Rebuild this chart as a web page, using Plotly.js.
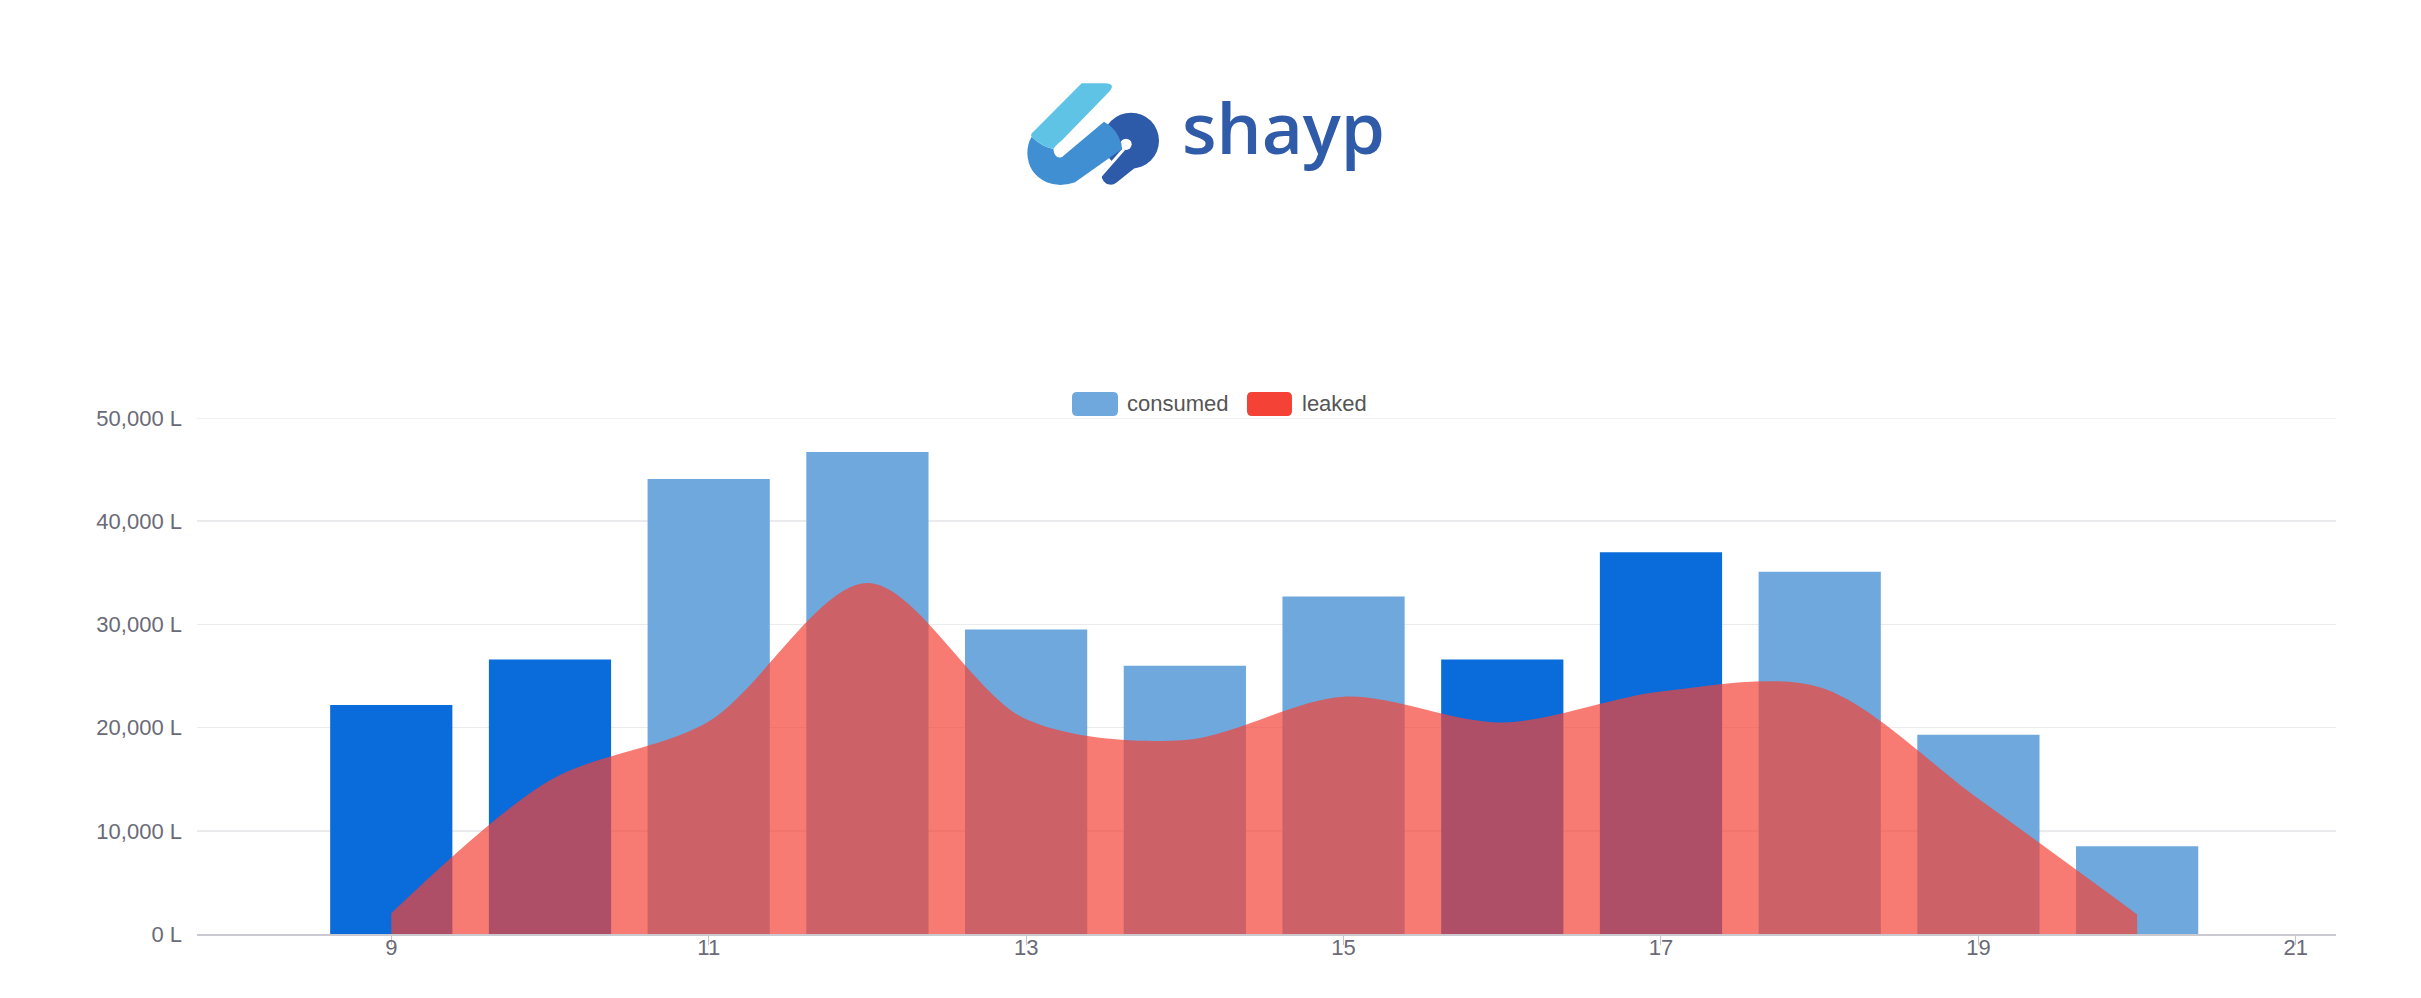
<!DOCTYPE html>
<html>
<head>
<meta charset="utf-8">
<script src="https://cdn.plot.ly/plotly-3.0.1.min.js"></script>
<style>html,body{margin:0;padding:0;background:#fff;}#chart{width:2421px;height:998px;}</style>
</head>
<body>
<div id="chart"></div>
<script>
// ---- data ----
const hours = [9, 10, 11, 12, 13, 14, 15, 16, 17, 18, 19, 20];
const consumed = [22200, 26600, 44100, 46700, 29500, 26000, 32700, 26600, 37000, 35100, 19300, 8500];
const leaked = [2000, 14900, 20600, 34000, 20800, 18800, 23000, 20500, 23500, 23900, 13100, 1900];
const highlightedHours = [9, 10, 16, 17];
const xTicks = [9, 11, 13, 15, 17, 19, 21];
const yTicks = [0, 10000, 20000, 30000, 40000, 50000];
const yTickText = yTicks.map(v => v.toLocaleString('en-US') + ' L');
const seriesNames = ["consumed", "leaked"];
const brandName = "shayp";

// ---- layout helpers ----
const W = 2421, H = 998;
const M = {l: 197, r: 85, t: 418, b: 64};
const pw = W - M.l - M.r, ph = H - M.t - M.b;
const X = p => (p - M.l) / pw;
const Y = p => (H - M.b - p) / ph;

function roundRect(x0, y0, x1, y1, r) {
  return `M${X(x0 + r)},${Y(y0)} L${X(x1 - r)},${Y(y0)} Q${X(x1)},${Y(y0)} ${X(x1)},${Y(y0 + r)} ` +
         `L${X(x1)},${Y(y1 - r)} Q${X(x1)},${Y(y1)} ${X(x1 - r)},${Y(y1)} ` +
         `L${X(x0 + r)},${Y(y1)} Q${X(x0)},${Y(y1)} ${X(x0)},${Y(y1 - r)} ` +
         `L${X(x0)},${Y(y0 + r)} Q${X(x0)},${Y(y0)} ${X(x0 + r)},${Y(y0)} Z`;
}

const LIGHT = '#6FA8DC', DARK = '#0A6CDA', RED = '#F44336';
const GRID = '#ebebee';

const logoSvg = `<svg xmlns="http://www.w3.org/2000/svg" viewBox="0 0 435 345" width="435" height="345">
<circle cx="333" cy="197" r="84" fill="#2E5BA9"/>
<path d="M350 240 L272 302" stroke="#2E5BA9" stroke-width="54" stroke-linecap="round" fill="none"/>
<circle cx="318" cy="208" r="17" fill="#ffffff"/>
<path d="M312 222 L212 336" stroke="#ffffff" stroke-width="9" fill="none"/>
<path d="M35 185 Q65 215 100 222 Q104 254 126 246 L252 140 Q290 160 304 205 L306 222 L165 322 Q120 338 80 322 Q24 296 22 235 Q22 205 35 185 Z" fill="#3F8FD2"/>
<path d="M185 25 L255 25 Q290 27 266 52 L126 196 Q104 214 100 222 Q65 215 35 185 Q30 178 40 170 Z" fill="#5EC3E4"/>
</svg>`;

const traces = [
  {
    type: 'bar', name: seriesNames[0], x: hours, y: consumed,
    marker: {color: hours.map(h => highlightedHours.includes(h) ? DARK : LIGHT), line: {width: 0}},
    hoverinfo: 'skip', showlegend: false
  },
  {
    type: 'scatter', mode: 'lines', name: seriesNames[1], x: hours, y: leaked,
    fill: 'tozeroy', fillcolor: 'rgba(244,67,54,0.7)',
    line: {width: 0, shape: 'spline', smoothing: 0.9, color: 'rgba(244,67,54,0.7)'},
    hoverinfo: 'skip', showlegend: false
  }
];

const tickFont = {family: 'Liberation Sans, Arial, sans-serif', size: 22, color: '#6a6a78'};

const layout = {
  width: W, height: H,
  margin: M,
  paper_bgcolor: '#fff', plot_bgcolor: '#fff',
  showlegend: false,
  bargap: 0.23,
  xaxis: {
    range: [7.776, 21.253], tickmode: 'array', tickvals: xTicks, ticktext: xTicks.map(String),
    ticks: 'outside', ticklen: 9, tickwidth: 1, tickcolor: '#c3c3c9',
    ticklabelstandoff: -16,
    showline: true, linecolor: '#c9c9cf', linewidth: 2,
    showgrid: false, zeroline: false, tickfont: tickFont, fixedrange: true
  },
  yaxis: {
    range: [0, 50000], tickmode: 'array', tickvals: yTicks, ticktext: yTickText,
    showline: false, gridcolor: GRID, gridwidth: 1.5, zeroline: false,
    ticks: '', ticklabelstandoff: 14, tickfont: tickFont, fixedrange: true
  },
  shapes: [
    {type: 'line', xref: 'paper', yref: 'y', x0: 0, x1: 1, y0: yTicks[yTicks.length - 1], y1: yTicks[yTicks.length - 1],
     line: {color: GRID, width: 1.5}, layer: 'below'},
    {type: 'path', xref: 'paper', yref: 'paper', path: roundRect(1072, 392, 1118, 416, 5), fillcolor: LIGHT, line: {width: 0}},
    {type: 'path', xref: 'paper', yref: 'paper', path: roundRect(1247, 392, 1292, 416, 5), fillcolor: RED, line: {width: 0}}
  ],
  annotations: [
    {xref: 'paper', yref: 'paper', x: X(1125), y: Y(403), xanchor: 'left', yanchor: 'middle', showarrow: false,
     text: seriesNames[0], font: {family: 'Liberation Sans, Arial, sans-serif', size: 22, color: '#555'}},
    {xref: 'paper', yref: 'paper', x: X(1300), y: Y(403), xanchor: 'left', yanchor: 'middle', showarrow: false,
     text: seriesNames[1], font: {family: 'Liberation Sans, Arial, sans-serif', size: 22, color: '#555'}},
    {xref: 'paper', yref: 'paper', x: X(1180), y: Y(126), xanchor: 'left', yanchor: 'middle', showarrow: false,
     text: brandName, font: {family: 'Open Sans, sans-serif', size: 71, color: '#2F5BA9', weight: 600}}
  ],
  images: [
    {source: 'data:image/svg+xml;charset=utf-8,' + encodeURIComponent(logoSvg),
     xref: 'paper', yref: 'paper', x: X(1020), y: Y(75), sizex: 145 / pw, sizey: 115 / ph,
     xanchor: 'left', yanchor: 'top', sizing: 'stretch', layer: 'above'}
  ]
};

Plotly.newPlot('chart', traces, layout, {displayModeBar: false, staticPlot: true});
</script>
</body>
</html>
